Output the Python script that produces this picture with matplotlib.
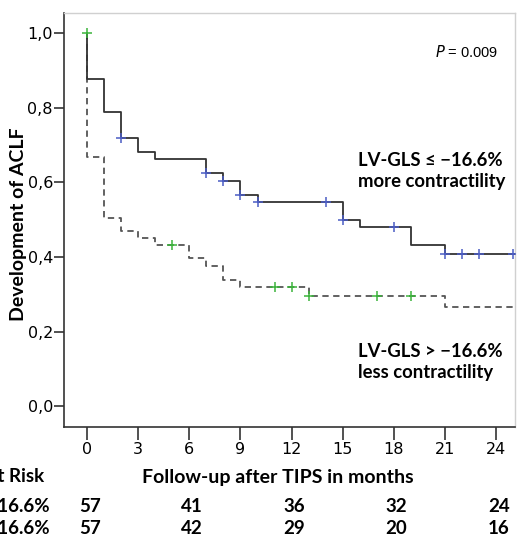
import matplotlib
matplotlib.use("Agg")
import matplotlib.pyplot as plt

# step curve for LV-GLS <= -16.6% (more contractility)
more_times = [0, 1, 2, 3, 4, 7, 8, 9, 10, 15, 16, 19, 21]
more_surv = [0.877, 0.789, 0.718, 0.681, 0.662, 0.624, 0.604, 0.566, 0.546, 0.500, 0.479, 0.432, 0.408]
more_censor = [2, 7, 8, 9, 10, 14, 15, 18, 21, 22, 23, 25]

# step curve for LV-GLS > -16.6% (less contractility)
less_times = [0, 1, 2, 3, 4, 6, 7, 8, 9, 13, 21]
less_surv = [0.667, 0.504, 0.469, 0.450, 0.432, 0.397, 0.375, 0.338, 0.319, 0.296, 0.266]
less_censor = [0, 5, 11, 12, 13, 17, 19]

end_time = 25.1

risk_months = [0, 6, 12, 18, 24]
risk_more = [57, 41, 36, 32, 24]
risk_less = [57, 42, 29, 20, 16]

x_ticks = [0, 3, 6, 9, 12, 15, 18, 21, 24]
y_ticks = [0.0, 0.2, 0.4, 0.6, 0.8, 1.0]
y_ticklabels = ["0,0", "0,2", "0,4", "0,6", "0,8", "1,0"]


def km_path(times, surv, end):
    xs, ys = [0.0], [1.0]
    for t, s in zip(times, surv):
        xs += [t, t]
        ys += [ys[-1], s]
    xs.append(end)
    ys.append(ys[-1])
    return xs, ys


def surv_at(times, surv, t):
    val = 1.0
    for tt, s in zip(times, surv):
        if tt <= t:
            val = s
    return val


fig = plt.figure(figsize=(5.19, 5.37), dpi=100)
ax = fig.add_axes([0.1233, 0.2048, 0.869, 0.771])

tick_font = ["Liberation Sans Narrow", "DejaVu Sans"]
bold_font = ["Lato", "DejaVu Sans"]

xs, ys = km_path(less_times, less_surv, end_time)
ax.plot(xs, ys, color="#555555", lw=1.3, ls=(0, (3.5, 2.5)), zorder=2)
xs, ys = km_path(more_times, more_surv, end_time)
ax.plot(xs, ys, color="#333333", lw=1.3, zorder=3)

ax.plot(more_censor, [surv_at(more_times, more_surv, t) for t in more_censor],
        ls="none", marker="+", ms=6.5, mew=1.1, color="#4a5cc4", zorder=4)
less_y = [1.0 if t == 0 else surv_at(less_times, less_surv, t) for t in less_censor]
ax.plot(less_censor, less_y, ls="none", marker="+", ms=6.5, mew=1.1,
        color="#3cb43c", zorder=5)

ax.set_xlim(-1.35, 25.1)
ax.set_ylim(-0.056, 1.054)
ax.set_xticks(x_ticks)
ax.set_xticklabels([str(v) for v in x_ticks], family=tick_font, fontsize=11.5)
ax.set_yticks(y_ticks)
ax.set_yticklabels(y_ticklabels, family=tick_font, fontsize=11.5)
ax.tick_params(axis="x", direction="out", length=9, width=1.2, color="#333333", pad=2)
ax.tick_params(axis="y", direction="out", length=7, width=1.2, color="#333333", pad=1)

for side in ["left", "bottom"]:
    ax.spines[side].set_color("#333333")
    ax.spines[side].set_linewidth(1.2)
for side in ["top", "right"]:
    ax.spines[side].set_color("#d0d0d0")
    ax.spines[side].set_linewidth(1.0)

ax.set_ylabel("Development of ACLF", family=bold_font, fontweight="bold", fontsize=14)
ax.yaxis.set_label_coords(-0.082, 0.49)

ax.text(0.962, 0.905, "$P$ = 0.009", transform=ax.transAxes, ha="right", va="center",
        family=["Liberation Sans", "DejaVu Sans"], fontsize=10.5)
ax.text(15.9, 0.63, "LV-GLS \u2264 \u221216.6%\nmore contractility", ha="left", va="center",
        family=bold_font, fontweight="bold", fontsize=13.3, linespacing=1.3)
ax.text(15.9, 0.118, "LV-GLS > \u221216.6%\nless contractility", ha="left", va="center",
        family=bold_font, fontweight="bold", fontsize=13.3, linespacing=1.3)

# number at risk table below the axis
trans = ax.get_xaxis_transform()
fig.text(278 / 519, 1 - 478 / 537, "Follow-up after TIPS in months", ha="center", va="center",
         family=bold_font, fontweight="bold", fontsize=14)
fig.text(44 / 519, 1 - 477 / 537, "Number at Risk", ha="right", va="center",
         family=bold_font, fontweight="bold", fontsize=13.5)
fig.text(50 / 519, 1 - 507 / 537, "LV-GLS \u2264 \u221216.6%", ha="right", va="center",
         family=bold_font, fontweight="bold", fontsize=13.5)
fig.text(50 / 519, 1 - 528 / 537, "LV-GLS > \u221216.6%", ha="right", va="center",
         family=bold_font, fontweight="bold", fontsize=13.5)

row_more_y = (1 - 507 / 537 - 0.2048) / 0.771
row_less_y = (1 - 528 / 537 - 0.2048) / 0.771
for m, a, b in zip(risk_months, risk_more, risk_less):
    ax.text(m + 0.15, row_more_y, str(a), transform=trans, ha="center", va="center",
            family=bold_font, fontweight="bold", fontsize=13.5, clip_on=False)
    ax.text(m + 0.15, row_less_y, str(b), transform=trans, ha="center", va="center",
            family=bold_font, fontweight="bold", fontsize=13.5, clip_on=False)

fig.savefig("out.png", dpi=100)
